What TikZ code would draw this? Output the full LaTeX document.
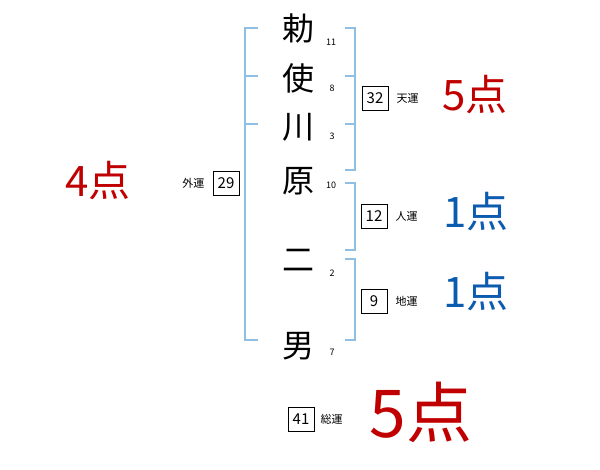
\documentclass[tikz,border=0pt]{standalone}
\usepackage{fontspec}
\setmainfont{Noto Sans CJK JP}
\usetikzlibrary{positioning}
\definecolor{ptred}{HTML}{C00000}
\definecolor{ptblue}{HTML}{0B5CB0}
\definecolor{brk}{HTML}{8FC0E3}

\begin{document}
\begin{tikzpicture}[x=1pt, y=-1pt,
  every node/.style={inner sep=0pt},
  kanji/.style={font=\fontsize{32}{32}\selectfont},
  strokes/.style={font=\fontsize{9}{9}\selectfont},
  numbox/.style={draw, line width=0.8pt, minimum width=26pt, minimum height=24pt, font=\fontsize{15}{15}\selectfont},
  unsei/.style={font=\fontsize{11}{11}\selectfont},
  pts/.style={font=\fontsize{42}{42}\selectfont},
  bracket/.style={draw=brk, line width=1.8pt},
]
\useasboundingbox (0,0) rectangle (600,470);

% name characters and stroke counts
\node[kanji] (c1) at (298,28) {勅};
\node[kanji] (c2) at (298,78) {使};
\node[kanji] (c3) at (298,127) {川};
\node[kanji] (c4) at (298,181) {原};
\node[kanji] (c5) at (298,260) {二};
\node[kanji] (c6) at (298,346) {男};
\node[strokes] (s1) at (331,42) {11};
\node[strokes] (s2) at (332,88) {8};
\node[strokes] (s3) at (332,136) {3};
\node[strokes] (s4) at (331,185) {10};
\node[strokes] (s5) at (332,273) {2};
\node[strokes] (s6) at (332,352) {7};

% brackets
\draw[bracket] (258,28) -| (245,340) -- (258,340);
\draw[bracket] (245,76) -- (258,76) (245,124) -- (258,124);
\draw[bracket] (345,28) -| (355,170) -- (345,170);
\draw[bracket] (345,76) -- (355,76) (345,124) -- (355,124);
\draw[bracket] (345,183) -| (355,250) -- (345,250);
\draw[bracket] (345,259) -| (355,340) -- (345,340);

% fortunes
\node[numbox] (ten) at (375,98) {32};
\node[unsei, right=8pt of ten] (tenl) {天運};
\node[pts, text=ptred] (tenp) at (475,95) {5点};

\node[numbox] (jin) at (374,216) {12};
\node[unsei, right=8pt of jin] (jinl) {人運};
\node[pts, text=ptblue] (jinp) at (476,212) {1点};

\node[numbox] (chi) at (374,301) {9};
\node[unsei, right=8pt of chi] (chil) {地運};
\node[pts, text=ptblue] (chip) at (476,292) {1点};

\node[numbox] (gai) at (226,183) {29};
\node[unsei, left=8pt of gai] (gail) {外運};
\node[pts, text=ptred] (gaip) at (98,181) {4点};

\node[numbox] (sou) at (301,419) {41};
\node[unsei, right=6pt of sou] (soul) {総運};
\node[pts, text=ptred, font=\fontsize{66}{66}\selectfont] (soup) at (421,412) {5点};
\end{tikzpicture}
\end{document}
